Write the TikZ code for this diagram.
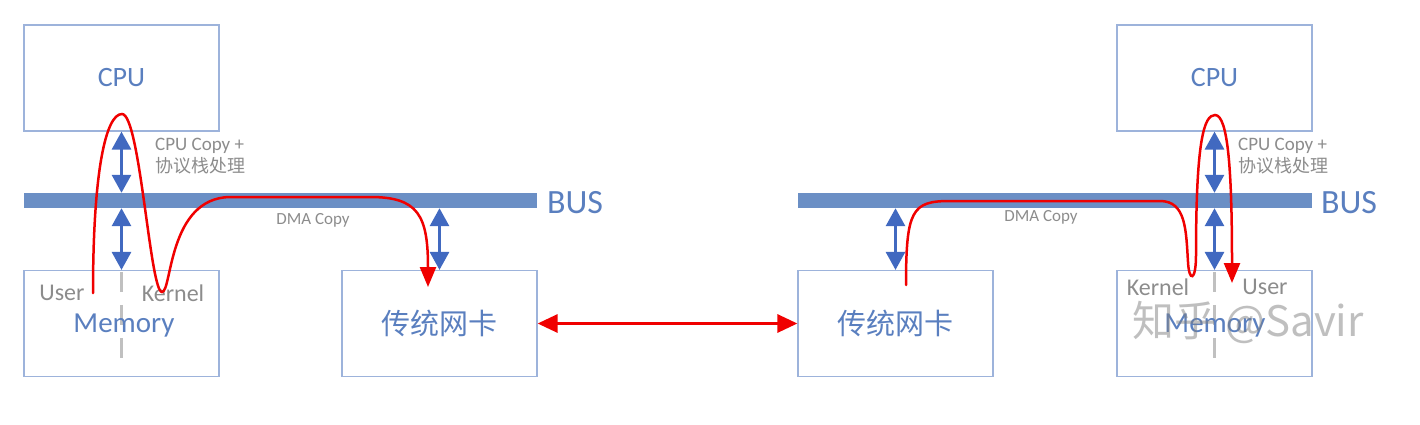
\documentclass[tikz,border=0pt]{standalone}
\usepackage{fontspec}
\setmainfont{Carlito}
\newfontfamily\cjk{Noto Sans CJK SC}
\usetikzlibrary{arrows.meta}
\definecolor{boxc}{HTML}{9DB3DB}
\definecolor{txtblue}{HTML}{5A7FBF}
\definecolor{busc}{HTML}{6B8FC5}
\definecolor{arrblue}{HTML}{4169C0}
\definecolor{redc}{HTML}{F00000}
\definecolor{graytxt}{HTML}{8C8C8C}
\definecolor{dashc}{HTML}{C0C0C0}
\tikzset{
  unitbox/.style={draw=boxc, line width=1.2pt, minimum width=195pt, minimum height=106pt, inner sep=0pt, text=txtblue, font=\fontsize{28}{30}\selectfont},
  nicbox/.style={unitbox, font=\cjk\fontsize{29}{32}\selectfont},
  memtxt/.style={text=txtblue, font=\fontsize{29}{32}\selectfont, inner sep=0pt},
  busbar/.style={fill=busc, inner sep=0pt, minimum height=15pt},
  buslabel/.style={text=txtblue, font=\fontsize{34}{36}\selectfont, inner sep=0pt},
  barrow/.style={draw=arrblue, line width=3pt, {Triangle[width=19pt,length=18pt]}-{Triangle[width=19pt,length=18pt]}},
  redpath/.style={draw=redc, line width=2.5pt, line cap=round, -{Triangle[width=16pt,length=20pt]}},
  redboth/.style={draw=redc, line width=3pt, {Triangle[width=18pt,length=20pt]}-{Triangle[width=18pt,length=20pt]}},
  smalltxt/.style={text=graytxt, font=\fontsize{17}{19}\selectfont, inner sep=0pt},
  notetxt/.style={text=graytxt, align=left, inner sep=0pt, font=\fontsize{19}{22}\selectfont},
  ukl/.style={text=graytxt, font=\fontsize{24}{26}\selectfont, inner sep=0pt},
  splitline/.style={draw=dashc, line width=2.5pt, dash pattern=on 20pt off 13pt},
}
\begin{document}
\begin{tikzpicture}[x=1pt,y=-1pt]
\useasboundingbox (0,0) rectangle (1420,424);

% ---------- left side ----------
\node[unitbox] (cpuL) at (121.5,78) {CPU};
\node[busbar, minimum width=513pt] (busL) at (280.5,200.5) {};
\node[buslabel] (busLt) at (575,203) {BUS};
\node[unitbox] (memL) at (121.5,323.5) {};
\draw[splitline] ([yshift=-2pt]memL.north) -- ([yshift=8pt]memL.south);
\node[memtxt] (memLt) at (124,326) {Memory};
\node[ukl] (userL) at (62,293) {User};
\node[ukl] (kernL) at (173,293) {Kernel};
\node[nicbox] (nicL) at (439.5,323.5) {传统网卡};

\draw[barrow] (cpuL.south) -- (cpuL.south |- busL.north);
\draw[barrow] (memL.north |- busL.south) -- (memL.north);
\draw[barrow] (nicL.north |- busL.south) -- (nicL.north);

\node[notetxt, anchor=west] (noteL) at (155,156) {CPU Copy +\\{\cjk\fontsize{18}{22}\selectfont 协议栈处理}};
\node[smalltxt] (dmaL) at (313,220) {DMA Copy};

\coordinate (startL) at (93,293);
\coordinate (endL) at (428,287);
\draw[redpath] (startL) .. controls (93,170) and (106,114) .. (122,114)
  .. controls (140,114) and (150,292) .. (162,292)
  .. controls (172,292) and (168,198) .. (230,197)
  -- (370,197) .. controls (418,197) and (428,215) .. (endL);

% ---------- right side ----------
\node[nicbox] (nicR) at (895.5,323.5) {传统网卡};
\node[busbar, minimum width=514pt] (busR) at (1055,200.5) {};
\node[buslabel] (busRt) at (1349,203) {BUS};
\node[unitbox] (cpuR) at (1214.5,78) {CPU};
\node[unitbox] (memR) at (1214.5,323.5) {};
\draw[splitline] ([yshift=-2pt]memR.north) -- ([yshift=8pt]memR.south);
\node[memtxt] (memRt) at (1215,326) {Memory};
\node[ukl] (kernR) at (1158,287) {Kernel};
\node[ukl] (userR) at (1265,287) {User};

\draw[barrow] (cpuR.south) -- (cpuR.south |- busR.north);
\draw[barrow] (memR.north |- busR.south) -- (memR.north);
\draw[barrow] (nicR.north |- busR.south) -- (nicR.north);

\node[notetxt, anchor=west] (noteR) at (1238,156) {CPU Copy +\\{\cjk\fontsize{18}{22}\selectfont 协议栈处理}};
\node[smalltxt] (dmaR) at (1041,217) {DMA Copy};

\coordinate (startR) at (906,285);
\coordinate (endR) at (1232,283);
\draw[redpath] (startR) .. controls (906,210) and (912,201) .. (950,201)
  -- (1160,201) .. controls (1186,201) and (1186,230) .. (1188,262)
  .. controls (1189,282) and (1196,282) .. (1196,255)
  .. controls (1196,140) and (1204,115) .. (1215,115)
  .. controls (1228,115) and (1232,170) .. (endR);

% ---------- link between the NICs ----------
\draw[redboth] (nicL.east) -- (nicR.west);

% ---------- watermark ----------
\node[text=gray, opacity=0.5, font=\cjk\fontsize{42}{44}\selectfont, inner sep=0pt] (wm) at (1248,322) {知乎 @Savir};
\end{tikzpicture}
\end{document}
